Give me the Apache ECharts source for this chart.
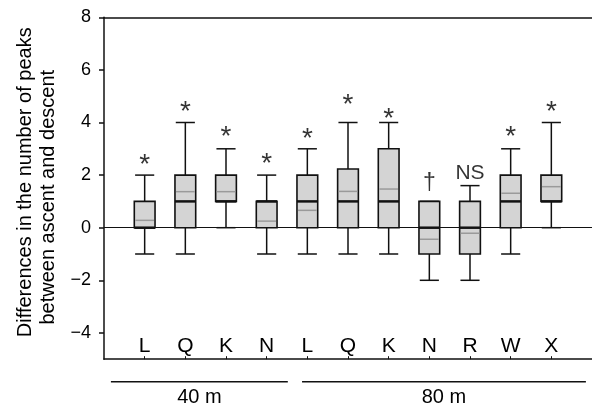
<!DOCTYPE html>
<html><head><meta charset="utf-8">
<script src="https://cdn.jsdelivr.net/npm/echarts@6/dist/echarts.min.js"></script>
<style>html,body{margin:0;padding:0;background:#fff}#c{width:592px;height:408px}</style>
</head><body><div id="c"></div>
<script>
const categories = ['L','Q','K','N','L','Q','K','N','R','W','X'];
const whiskerLow = [-1,-1,0,-1,-1,-1,-1,-2,-2,-1,0];
const q1 = [0,0,1,0,0,0,0,-1,-1,0,1];
const medians = [0,1,1,1,1,1,1,0,0,1,1];
const q3 = [1,2,2,1,2,2.23,3,1,1,2,2];
const whiskerHigh = [2,4,3,2,3,4,4,1,1.6,3,4];
const means = [0.28,1.37,1.37,0.25,0.66,1.38,1.47,-0.44,-0.21,1.31,1.56];
const marks = ['*','*','*','*','*','*','*','\u2020','NS','*','*'];
const markY = [2.60,4.63,3.68,2.65,3.60,4.88,4.36,1.71,2.09,3.65,4.63];
const yTicks = [-4,-2,0,2,4,6,8];
const groupNames = ['40 m','80 m'];
const groupStart = [0.17,4.87];
const groupEnd = [4.52,11.85];
const yTitle = ['Differences in the number of peaks','between ascent and descent'];

const FONT = '"Liberation Sans", Arial, Helvetica, sans-serif';
const INK = '#111';
const TXT = '#000';
const xPos = categories.map((c,i)=>i+1);

const boxData = categories.map((c,i)=>[xPos[i], whiskerLow[i], q1[i], medians[i], q3[i], whiskerHigh[i], means[i]]);
const markData = categories.map((c,i)=>({
  value:[xPos[i], markY[i], marks[i]],
  label: marks[i]==='*' ? {fontSize:28, offset:[0,6]} :
         marks[i]==='NS' ? {fontSize:21, offset:[0,0]} : {fontSize:23, offset:[0,1]}
}));

const chart = echarts.init(document.getElementById('c'), null, {renderer:'canvas'});
const option = {
  animation:false,
  backgroundColor:'#fff',
  textStyle:{fontFamily:FONT},
  grid:{left:104, right:0, top:17.3, bottom:48.8},
  xAxis:[{
    type:'value', min:0, max:12, position:'bottom',
    axisLine:{show:true, onZero:false, lineStyle:{color:INK, width:1.5}},
    axisTick:{show:true, inside:true, length:3, customValues:xPos, lineStyle:{color:INK, width:1}},
    axisLabel:{show:true, inside:true, margin:2, fontSize:21, color:TXT, fontFamily:FONT,
      customValues:xPos, formatter:v=>categories[Math.round(v)-1]},
    splitLine:{show:false}
  },{
    type:'value', min:0, max:12, position:'top',
    axisLine:{show:true, onZero:false, lineStyle:{color:INK, width:1.5}},
    axisTick:{show:false}, axisLabel:{show:false}, splitLine:{show:false}
  }],
  yAxis:{
    type:'value', min:-5, max:8,
    axisLine:{show:true, lineStyle:{color:INK, width:1.5}},
    axisTick:{show:true, inside:false, length:5, customValues:yTicks, lineStyle:{color:INK, width:1.5}},
    axisLabel:{show:true, margin:13, fontSize:18, color:TXT, fontFamily:FONT,
      customValues:yTicks, formatter:v=> v<0 ? '\u2212'+Math.abs(v) : String(v)},
    splitLine:{show:false}
  },
  series:[{
    type:'custom', z:1, data:[], renderItem:()=>null,
    markLine:{silent:true, symbol:'none', label:{show:false},
      lineStyle:{color:INK, width:1, type:'solid'}, data:[{yAxis:0}]}
  },{
    type:'custom', z:3, data:boxData,
    renderItem:(params, api)=>{
      const x = api.value(0);
      const unit = api.size([1,0])[0];
      const bw = unit*0.51, cw = unit*0.47;
      const p = k => api.coord([x, api.value(k)]);
      const lo=p(1), a=p(2), m=p(3), b=p(4), hi=p(5), mn=p(6);
      const cx = lo[0];
      const ls = {stroke:INK, lineWidth:1.5};
      const L = (x1,y1,x2,y2,s)=>({type:'line', shape:{x1,y1,x2,y2}, style:s});
      return {type:'group', children:[
        L(cx,hi[1],cx,b[1],ls), L(cx,a[1],cx,lo[1],ls),
        L(cx-cw/2,hi[1],cx+cw/2,hi[1],ls), L(cx-cw/2,lo[1],cx+cw/2,lo[1],ls),
        {type:'rect', shape:{x:cx-bw/2, y:b[1], width:bw, height:a[1]-b[1]},
          style:{fill:'#d4d4d4', stroke:INK, lineWidth:1.6}},
        L(cx-bw/2+1,mn[1],cx+bw/2-1,mn[1],{stroke:'#9a9a9a', lineWidth:1.5}),
        L(cx-bw/2,m[1],cx+bw/2,m[1],{stroke:INK, lineWidth:2.5})
      ]};
    }
  },{
    type:'scatter', z:4, symbolSize:1, itemStyle:{color:'rgba(0,0,0,0)'},
    data:markData,
    label:{show:true, position:'inside', color:TXT, fontFamily:FONT,
      formatter:p=>p.value[2]}
  }]
};
chart.setOption(option);

// group brackets below the axis and the rotated y-axis title
const yBase = chart.convertToPixel({gridIndex:0}, [0,-5])[1];
const graphics = [];
groupNames.forEach((g,i)=>{
  const x1 = chart.convertToPixel({gridIndex:0}, [groupStart[i], 0])[0];
  const x2 = chart.convertToPixel({gridIndex:0}, [groupEnd[i], 0])[0];
  graphics.push({type:'line', shape:{x1, y1:yBase+22.5, x2, y2:yBase+22.5}, style:{stroke:INK, lineWidth:1.5}});
  graphics.push({type:'text', x:(x1+x2)/2, y:yBase+38.5, style:{text:g, fontSize:20, fontFamily:FONT, fill:TXT, textAlign:'center', textVerticalAlign:'middle'}});
});
const yTop = chart.convertToPixel({gridIndex:0}, [0,8])[1];
const yMid = (yTop + yBase)/2;
graphics.push({type:'text', x:25, y:yMid-6, rotation:Math.PI/2, style:{text:yTitle[0], fontSize:20, fontFamily:FONT, fill:TXT, textAlign:'center', textVerticalAlign:'middle'}});
graphics.push({type:'text', x:48, y:yMid+9, rotation:Math.PI/2, style:{text:yTitle[1], fontSize:20, fontFamily:FONT, fill:TXT, textAlign:'center', textVerticalAlign:'middle'}});
chart.setOption({graphic:graphics});
</script>
</body></html>
